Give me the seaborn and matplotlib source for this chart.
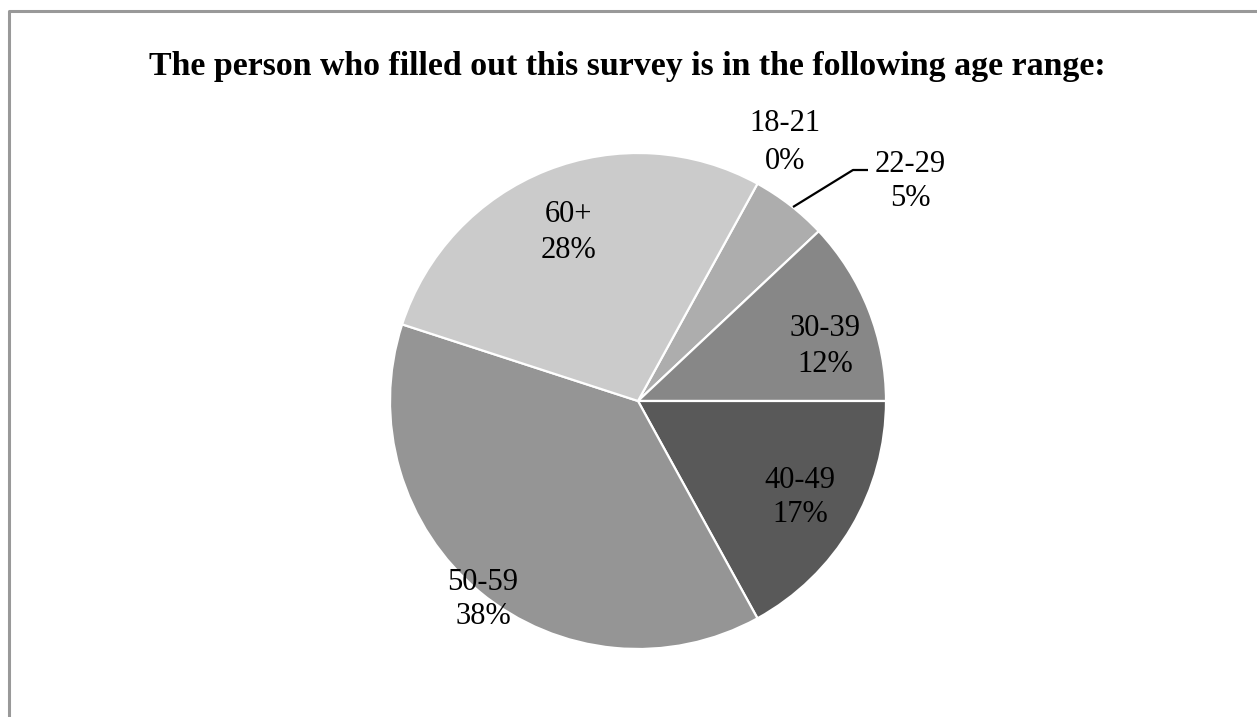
import matplotlib
matplotlib.use("Agg")
import matplotlib.pyplot as plt
import seaborn as sns

# Survey responses by age range (percent of respondents)
age_ranges = ["18-21", "22-29", "30-39", "40-49", "50-59", "60+"]
shares = [0, 5, 12, 17, 38, 28]
slice_colors = ["#c4c4c4", "#adadad", "#878787", "#595959", "#959595", "#cbcbcb"]
title = "The person who filled out this survey is in the following age range:"

sns.set_theme(style="white")
plt.rcParams["font.family"] = ["Liberation Serif", "DejaVu Serif"]

W, H = 1257, 717
fig = plt.figure(figsize=(W / 100, H / 100), dpi=100)
ax = fig.add_axes([0, 0, 1, 1])

cx, cy, r = 638, H - 401, 248
ax.pie(
    shares,
    colors=slice_colors,
    startangle=61.2,
    counterclock=False,
    center=(cx, cy),
    radius=r,
    wedgeprops=dict(edgecolor="white", linewidth=1.6),
    frame=True,
)
ax.set_xlim(0, W)
ax.set_ylim(0, H)
ax.set_aspect("equal")
ax.set_axis_off()

# Data label centres (pixel coordinates from the top-left corner)
label_pos = {
    "18-21": (785, 139),
    "22-29": (910, 178),
    "30-39": (825, 343),
    "40-49": (800, 494),
    "50-59": (483, 596),
    "60+": (568, 229),
}
half_gap = {"18-21": 19}
for name, val in zip(age_ranges, shares):
    px, py = label_pos[name]
    g = half_gap.get(name, 17.5)
    ax.text(px, H - (py - g), name, ha="center", va="center_baseline",
            fontsize=22, color="black")
    ax.text(px, H - (py + g), f"{val}%", ha="center", va="center_baseline",
            fontsize=22, color="black")

# Leader line for the thin 22-29 slice
ax.plot([793, 853, 868], [H - 207, H - 170, H - 170], color="black", lw=1.6,
        solid_capstyle="butt")

ax.text(627.5, H - 63, title, ha="center", va="center_baseline", fontsize=24.4,
        fontweight="bold", color="black")

# Chart area border
ax.plot([9, 9, W + 5], [-5, H - 11, H - 11], color="#999999", lw=2.2,
        solid_capstyle="butt", clip_on=False)

fig.savefig("out.png", dpi=100, facecolor="white")
